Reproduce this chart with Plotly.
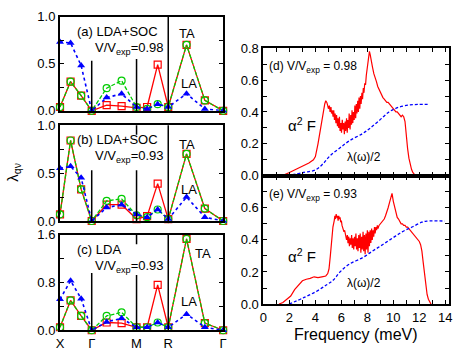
import numpy as np
import plotly.graph_objects as go

W, H = 463, 360

# high-symmetry path X-G-M-R-G (simple cubic, units of 2pi/a)
seg_len = [0.5, 0.7071, 0.5, 0.8660]
k_labels = ["X", "Γ", "M", "R", "Γ"]
pts_per_seg = 3

# lambda_qv, 13 q-points along the path (red: TA, green: TA', blue: LA)
a_ta = [0.04, 0.31, 0.16, 0.0, 0.06, 0.05, 0.03, 0.04, 0.49, 0.04, 0.70, 0.11, 0.0]
a_ta2 = [0.04, 0.31, 0.16, 0.0, 0.24, 0.32, 0.04, 0.02, 0.07, 0.04, 0.70, 0.11, 0.0]
a_la = [0.73, 0.72, 0.48, 0.0, 0.14, 0.18, 0.04, 0.02, 0.07, 0.04, 0.18, 0.02, 0.0]

b_ta = [0.07, 0.84, 0.33, 0.0, 0.17, 0.17, 0.02, 0.05, 0.39, 0.02, 0.70, 0.13, 0.0]
b_ta2 = [0.07, 0.84, 0.33, 0.0, 0.21, 0.23, 0.06, 0.04, 0.12, 0.02, 0.70, 0.13, 0.0]
b_la = [0.55, 0.57, 0.45, 0.0, 0.14, 0.17, 0.07, 0.04, 0.12, 0.02, 0.25, 0.04, 0.0]

c_ta = [0.05, 0.50, 0.24, 0.0, 0.13, 0.12, 0.05, 0.05, 0.76, 0.05, 1.53, 0.12, 0.0]
c_ta2 = [0.05, 0.50, 0.24, 0.0, 0.24, 0.30, 0.05, 0.05, 0.13, 0.05, 1.53, 0.12, 0.0]
c_la = [0.52, 0.83, 0.53, 0.0, 0.14, 0.20, 0.05, 0.05, 0.13, 0.05, 0.27, 0.05, 0.0]

# alpha^2F and lambda(w)/2, V/Vexp = 0.98
d_freq = [1.3, 1.6, 2.0, 2.5, 3.0, 3.5, 3.85, 4.0, 4.2, 4.4, 4.6, 4.72, 4.8, 4.88,
          4.95, 5.0, 5.08, 5.13, 5.2, 5.24, 5.3, 5.36, 5.41, 5.47, 5.52, 5.58, 5.63, 5.7,
          5.74, 5.8, 5.85, 5.9, 5.96, 6.01, 6.07, 6.12, 6.18, 6.23, 6.29, 6.33, 6.4, 6.45,
          6.5, 6.56, 6.6, 6.67, 6.72, 6.78, 6.82, 6.88, 6.93, 6.99, 7.04, 7.1, 7.15, 7.2,
          7.26, 7.31, 7.36, 7.42, 7.47, 7.52, 7.58, 7.63, 7.69, 7.74, 7.8, 7.86, 7.92, 7.98,
          8.04, 8.1, 8.16, 8.22, 8.3, 8.4, 8.5, 8.55, 8.6, 8.7, 8.8, 8.9, 9.0, 9.1, 9.2,
          9.3, 9.4, 9.5, 9.6, 9.7, 9.8, 9.9, 10.0, 10.1, 10.2, 10.3, 10.4, 10.5, 10.6, 10.7,
          10.8, 10.9, 11.0, 11.1, 11.2, 11.3, 11.4, 11.5, 11.6, 11.7]
d_a2f = [0.0, 0.005, 0.02, 0.04, 0.06, 0.08, 0.10, 0.12, 0.20, 0.30, 0.40, 0.45, 0.47, 0.46,
         0.44, 0.42, 0.44, 0.40, 0.43, 0.39, 0.41, 0.37, 0.41, 0.35, 0.39, 0.33, 0.38, 0.31,
         0.36, 0.30, 0.37, 0.28, 0.33, 0.27, 0.35, 0.29, 0.33, 0.26, 0.34, 0.28, 0.36, 0.27,
         0.35, 0.30, 0.39, 0.29, 0.38, 0.32, 0.41, 0.33, 0.40, 0.35, 0.44, 0.36, 0.45, 0.39,
         0.47, 0.40, 0.49, 0.42, 0.50, 0.45, 0.52, 0.48, 0.55, 0.52, 0.58, 0.57, 0.63, 0.67,
         0.72, 0.75, 0.78, 0.76, 0.71, 0.68, 0.64, 0.63, 0.61, 0.59, 0.56, 0.54, 0.52, 0.51, 0.49,
         0.48, 0.47, 0.46, 0.46, 0.45, 0.44, 0.43, 0.42, 0.41, 0.40, 0.40, 0.39, 0.38, 0.37, 0.38,
         0.37, 0.34, 0.24, 0.17, 0.11, 0.07, 0.04, 0.02, 0.01, 0.0]
d_lfreq = [1.84, 3.1, 4.0, 4.6, 5.13, 5.9, 6.64, 7.65, 8.16, 8.9, 9.67, 10.43, 11.2, 11.95, 12.8]
d_lam = [0.0, 0.02, 0.036, 0.076, 0.125, 0.175, 0.22, 0.265, 0.295, 0.345, 0.40, 0.43, 0.443, 0.447, 0.447]

# V/Vexp = 0.93
e_freq = [1.2, 1.5, 1.8, 2.1, 2.4, 2.7, 3.0, 3.3, 3.6, 3.9, 4.2, 4.5, 4.8, 4.95, 5.05, 5.15,
          5.25, 5.35, 5.45, 5.5, 5.55, 5.6, 5.65, 5.7, 5.75, 5.8, 5.85, 5.9, 5.95, 6.0, 6.05,
          6.1, 6.15, 6.2, 6.25, 6.3,
          6.35, 6.4, 6.46, 6.51, 6.57, 6.62, 6.68, 6.73, 6.79, 6.84, 6.9, 6.95, 7.01, 7.06,
          7.12, 7.17, 7.23, 7.28, 7.34, 7.39, 7.45, 7.5, 7.56, 7.61, 7.67, 7.72, 7.78, 7.83,
          7.89, 7.94, 8.0, 8.05, 8.11, 8.16, 8.22, 8.27, 8.33, 8.38, 8.44, 8.49, 8.55, 8.6,
          8.66, 8.71, 8.77, 8.82, 8.9, 9.0, 9.1, 9.2, 9.3, 9.4, 9.5,
          9.6, 9.7, 9.8, 9.9, 10.0, 10.1, 10.2, 10.3, 10.4, 10.5, 10.6, 10.7, 10.8, 10.9,
          11.0, 11.1, 11.2, 11.3, 11.4, 11.5, 11.6, 11.7, 11.8, 11.9, 12.0, 12.1, 12.2, 12.3,
          12.4, 12.5, 12.6, 12.7, 12.8, 12.9]
e_a2f = [0.0, 0.01, 0.03, 0.05, 0.09, 0.12, 0.145, 0.155, 0.16, 0.17, 0.165, 0.17, 0.175, 0.19,
         0.22, 0.30, 0.40, 0.48, 0.52, 0.55, 0.53, 0.56, 0.54, 0.55, 0.52, 0.55, 0.53, 0.54, 0.51,
         0.52, 0.49, 0.48, 0.47, 0.45, 0.46, 0.43,
         0.43, 0.40, 0.43, 0.38, 0.42, 0.36, 0.41, 0.37, 0.43, 0.35, 0.41, 0.34, 0.42, 0.36,
         0.44, 0.34, 0.41, 0.33, 0.43, 0.35, 0.44, 0.32, 0.42, 0.34, 0.45, 0.33, 0.43, 0.31,
         0.44, 0.34, 0.46, 0.32, 0.45, 0.36, 0.46, 0.38, 0.47, 0.40, 0.46, 0.42, 0.48, 0.44,
         0.48, 0.46, 0.49, 0.47, 0.49, 0.50, 0.51, 0.52, 0.53, 0.55, 0.57,
         0.60, 0.63, 0.66, 0.69, 0.64, 0.60, 0.57, 0.54, 0.53, 0.51, 0.50, 0.50, 0.49, 0.49,
         0.48, 0.48, 0.47, 0.46, 0.45, 0.44, 0.43, 0.42, 0.41, 0.40, 0.39, 0.37, 0.33, 0.26,
         0.18, 0.11, 0.06, 0.03, 0.01, 0.0]
e_lfreq = [1.97, 3.1, 4.1, 4.87, 5.38, 5.89, 6.64, 7.65, 8.4, 9.17, 9.92, 10.68, 11.44, 12.2, 12.58, 13.96]
e_lam = [0.0, 0.04, 0.08, 0.12, 0.15, 0.20, 0.25, 0.29, 0.33, 0.37, 0.41, 0.45, 0.48, 0.51, 0.517, 0.517]

RED, GREEN, BLUE = "#ff0000", "#00cc00", "#0000ff"
FONT = "Liberation Sans, Arial, sans-serif"

# visible parts of the Gamma / M / R separators (fraction of panel height),
# the labels sit in the gaps
sep_parts = [
    [[(0, 0.53)], [(0, 0.55)], [(0, 1)]],
    [[(0, 0.53)], [(0, 0.53), (0.9, 1)], [(0, 1)]],
    [[(0, 0.6)], [(0, 0.58), (0.9, 1)], [(0, 1)]],
]


def px(x):
    return x / W


def py(y):
    return 1 - y / H


def sfx(n):
    return "" if n == 1 else str(n)


# k-point coordinates from cumulative path length
k_nodes = np.concatenate([[0], np.cumsum(seg_len)])
k_x = []
for i, L in enumerate(seg_len):
    start = k_nodes[i]
    for j in range(pts_per_seg):
        k_x.append(start + L * j / pts_per_seg)
k_x.append(k_nodes[-1])

fig = go.Figure()

left = [(a_ta, a_ta2, a_la), (b_ta, b_ta2, b_la), (c_ta, c_ta2, c_la)]
for n, (red, green, blue) in enumerate(left, start=1):
    xa, ya = "x" + sfx(n), "y" + sfx(n)
    fig.add_trace(go.Scatter(x=k_x, y=red, xaxis=xa, yaxis=ya, mode="lines+markers", cliponaxis=False,
                             line=dict(color=RED, width=1.3),
                             marker=dict(symbol="square-open", size=7, color=RED, line=dict(width=1.2))))
    fig.add_trace(go.Scatter(x=k_x, y=green, xaxis=xa, yaxis=ya, mode="lines+markers", cliponaxis=False,
                             line=dict(color=GREEN, width=1.3, dash="4px,2px"),
                             marker=dict(symbol="circle-open", size=7, color=GREEN, line=dict(width=1.2))))
    fig.add_trace(go.Scatter(x=k_x, y=blue, xaxis=xa, yaxis=ya, mode="lines+markers", cliponaxis=False,
                             line=dict(color=BLUE, width=1.6, dash="dot"),
                             marker=dict(symbol="triangle-up", size=7, color=BLUE)))

for n, (f, a2f, lf, lam) in enumerate([(d_freq, d_a2f, d_lfreq, d_lam), (e_freq, e_a2f, e_lfreq, e_lam)], start=4):
    xa, ya = "x" + sfx(n), "y" + sfx(n)
    fig.add_trace(go.Scatter(x=f, y=a2f, xaxis=xa, yaxis=ya, mode="lines",
                             line=dict(color=RED, width=1.2)))
    fig.add_trace(go.Scatter(x=lf, y=lam, xaxis=xa, yaxis=ya, mode="lines", line_shape="spline",
                             line=dict(color=BLUE, width=1.3, dash="3px,2px")))

frame = dict(showline=True, linecolor="black", linewidth=2, mirror="ticks", showgrid=False,
             zeroline=False, tickfont=dict(family=FONT, size=13, color="black"))
tick_in = dict(ticks="inside", ticklen=4, tickwidth=1.2, tickcolor="black")

left_x = [px(57), px(223)]
left_y = [(10, 108.3), (123.3, 223.3), (237.7, 337.3)]
y_top = [1.0, 1.0, 1.6]

layout = dict(width=W, height=H, margin=dict(l=0, r=0, t=0, b=0), showlegend=False,
              paper_bgcolor="white", plot_bgcolor="white")
shapes = []
for i in range(3):
    n = i + 1
    s = sfx(n)
    layout["xaxis" + s] = dict(frame, domain=left_x, anchor="y" + s, range=[0, k_nodes[-1]],
                               tickvals=list(k_nodes), ticktext=k_labels, showticklabels=(n == 3),
                               ticks="")
    layout["yaxis" + s] = dict(frame, **tick_in, domain=[py(left_y[i][1]), py(left_y[i][0])],
                               anchor="x" + s, range=[0, y_top[i]], tickmode="linear", tick0=0,
                               dtick=y_top[i] / 2, tickformat=".1f",
                               minor=dict(ticks="inside", ticklen=4, tickwidth=1.2, tickcolor="black",
                                          dtick=y_top[i] / 4, showgrid=False))
    for kx, parts in zip(k_nodes[1:-1], sep_parts[i]):
        for y0, y1 in parts:
            shapes.append(dict(type="line", xref="x" + s, yref="y" + s + " domain", x0=kx, x1=kx,
                               y0=y0, y1=y1, line=dict(color="black", width=1.5)))

right_x = [px(264), px(453)]
right_y = [(43, 176), (176, 310)]
for i in range(2):
    n = i + 4
    s = sfx(n)
    layout["xaxis" + s] = dict(frame, **tick_in, domain=right_x, anchor="y" + s, range=[0, 14.3],
                               tickmode="linear", tick0=0, dtick=2, showticklabels=(n == 5),
                               minor=dict(ticks="inside", ticklen=4, tickwidth=1.2, tickcolor="black",
                                          dtick=1, showgrid=False))
    layout["yaxis" + s] = dict(frame, **tick_in, domain=[py(right_y[i][1]), py(right_y[i][0])],
                               anchor="x" + s, range=[0, 0.8],
                               tickvals=[0, 0.2, 0.4, 0.6, 0.8] if n == 4 else [0, 0.2, 0.4, 0.6],
                               tickformat=".1f",
                               minor=dict(ticks="inside", ticklen=4, tickwidth=1.2, tickcolor="black",
                                          tickmode="linear", tick0=0, dtick=0.1, showgrid=False))
layout["shapes"] = shapes

ann = []


def label(x, y, text, size=13, xanchor="left", angle=0):
    ann.append(dict(x=px(x), y=py(y), xref="paper", yref="paper", text=text, showarrow=False,
                    xanchor=xanchor, yanchor="middle", textangle=angle,
                    font=dict(family=FONT, size=size, color="black")))


label(72, 25.5, "(a) LDA+SOC")
label(91, 43, "V/V<sub>exp</sub>=0.98")
label(176, 28, "TA")
label(178, 80, "LA")
label(72, 138, "(b) LDA+SOC")
label(91, 156, "V/V<sub>exp</sub>=0.93")
label(176, 143, "TA")
label(178, 190, "LA")
label(72, 253, "(c) LDA")
label(91, 271, "V/V<sub>exp</sub>=0.93")
label(192, 257, "TA")
label(178, 307, "LA")
label(10, 172, "λ<sub>qν</sub>", size=15, xanchor="center", angle=-90)

label(268, 63, "(d) V/V<sub>exp</sub> = 0.98", size=12)
label(287, 123, "α<sup>2</sup> F", size=15)
label(347, 156, "λ(ω)/2", size=12)
label(268, 196, "(e) V/V<sub>exp</sub> = 0.93", size=12)
label(287, 259, "α<sup>2</sup> F", size=15)
label(347, 288, "λ(ω)/2", size=12)
label(358, 342, "Frequency (meV)", size=16, xanchor="center")
layout["annotations"] = ann

fig.update_layout(**layout)
fig.write_html("out.html", config={"displayModeBar": False},
               post_script="document.body.style.margin='0';")
